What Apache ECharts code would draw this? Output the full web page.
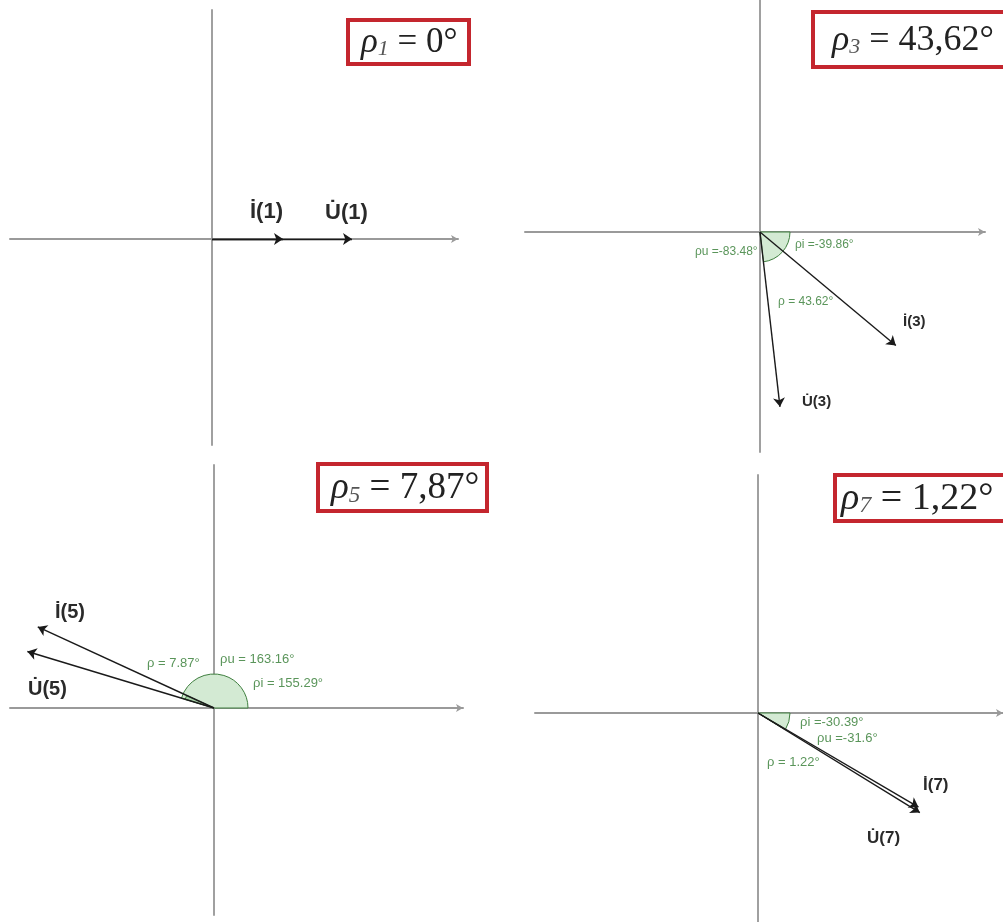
<!DOCTYPE html>
<html>
<head>
<meta charset="utf-8">
<script src="https://cdn.jsdelivr.net/npm/echarts@6/dist/echarts.min.js"></script>
<style>
  html, body { margin: 0; padding: 0; background: #fff; }
  #main { width: 1003px; height: 922px; }
</style>
</head>
<body>
<div id="main"></div>
<script>
// harmonic order of each panel
const orders = ['1', '3', '5', '7'];
// phase shift ρ shown in the red boxes
const rhoBox = ['0', '43,62', '7,87', '1,22'];
// phase angles of current and voltage phasors (degrees)
const phiI = [0, -39.86, 155.29, -30.39];
const phiU = [0, -83.48, 163.16, -31.6];
// phasor lengths (drawing units)
const magI = [71, 177, 194, 186];
const magU = [140, 176, 195, 190];
// angle annotations
const angleLabels = [
  [],
  ['ρu =-83.48°', 'ρi =-39.86°', 'ρ = 43.62°'],
  ['ρu = 163.16°', 'ρi = 155.29°', 'ρ = 7.87°'],
  ['ρu =-31.6°', 'ρi =-30.39°', 'ρ = 1.22°']
];

// layout: grid box in pixels and axis ranges (1 unit = 1 px)
const grids = [
  { left: 10, top: 10, width: 448, height: 435, x: [-202, 246], y: [-206, 229] },
  { left: 525, top: 0, width: 460, height: 452, x: [-235, 225], y: [-220, 232] },
  { left: 10, top: 465, width: 453, height: 450, x: [-204, 249], y: [-207, 243] },
  { left: 535, top: 475, width: 468, height: 447, x: [-223, 245], y: [-209, 238] }
];
const sectorR = [0, 30, 34, 32];
const boxes = [
  { x: 348, y: 20, w: 121, h: 44, tx: 361, fs: 35 },
  { x: 813, y: 12, w: 200, h: 55, tx: 832, fs: 36 },
  { x: 318, y: 464, w: 169, h: 47, tx: 331, fs: 37 },
  { x: 835, y: 475, w: 175, h: 46, tx: 841, fs: 38 }
];
// vector labels: [I label pos, U label pos, font size]
const vecLabelPos = [
  [[250, 212], [325, 213], 22],
  [[903, 322], [802, 402], 15],
  [[55, 612], [28, 689], 20],
  [[923, 785], [867, 838], 17]
];
// angle label positions (pixels, left-middle) and font size
const angLabelPos = [
  [],
  [[695, 252, 12], [795, 245, 12], [778, 302, 12]],
  [[220, 659, 13], [253, 683, 13], [147, 663, 13]],
  [[817, 738, 13], [800, 722, 13], [767, 762, 13]]
];

const rad = d => d * Math.PI / 180;
const chart = echarts.init(document.getElementById('main'));

const gridOpt = [], xAxes = [], yAxes = [], series = [], graphic = [];

grids.forEach((g, k) => {
  gridOpt.push({ left: g.left, top: g.top, width: g.width, height: g.height });
  const axisCommon = {
    type: 'value', gridIndex: k,
    axisTick: { show: false }, axisLabel: { show: false }, splitLine: { show: false }
  };
  xAxes.push(Object.assign({}, axisCommon, {
    min: g.x[0], max: g.x[1],
    axisLine: { onZero: true, symbol: ['none', 'arrow'], symbolSize: [6, 7], lineStyle: { color: '#9a9a9a', width: 2 } }
  }));
  yAxes.push(Object.assign({}, axisCommon, {
    min: g.y[0], max: g.y[1],
    axisLine: { onZero: true, lineStyle: { color: '#a0a0a0', width: 2 } }
  }));

  // green angle sectors
  if (sectorR[k] > 0) {
    const a = Math.min(phiI[k], phiU[k], 0), b = Math.max(phiI[k], phiU[k], 0);
    const lo = Math.min(phiI[k], phiU[k]), hi = Math.max(phiI[k], phiU[k]);
    series.push({
      type: 'custom', coordinateSystem: 'cartesian2d', xAxisIndex: k, yAxisIndex: k, z: 1,
      data: [[a, b, 0], [lo, hi, 1]],
      renderItem: (params, api) => {
        const c = api.coord([0, 0]);
        const r = api.size([sectorR[k], 0])[0];
        const s = api.value(0), e = api.value(1), kind = api.value(2);
        if (kind === 1 && k === 1) return null;
        return {
          type: 'sector',
          shape: { cx: c[0], cy: c[1], r: kind ? r - 4 : r, r0: 0,
            startAngle: -rad(e), endAngle: -rad(s), clockwise: true },
          style: { fill: kind ? '#a8d2a8' : '#d3ead3', stroke: '#3f7f3f', lineWidth: 1 }
        };
      }
    });
  }

  // phasors
  series.push({
    type: 'lines', coordinateSystem: 'cartesian2d', xAxisIndex: k, yAxisIndex: k, z: 3,
    symbol: ['none', 'arrow'], symbolSize: 9,
    lineStyle: { color: '#1a1a1a', width: 1.4, opacity: 1 },
    data: [
      { coords: [[0, 0], [magU[k] * Math.cos(rad(phiU[k])), magU[k] * Math.sin(rad(phiU[k]))]] },
      { coords: [[0, 0], [magI[k] * Math.cos(rad(phiI[k])), magI[k] * Math.sin(rad(phiI[k]))]] }
    ]
  });

  // vector labels
  const vp = vecLabelPos[k];
  graphic.push({ type: 'text', z: 10, style: { x: vp[0][0], y: vp[0][1], text: 'İ(' + orders[k] + ')',
    font: 'bold ' + vp[2] + 'px "Liberation Sans", Arial, sans-serif', fill: '#2a2a2a', verticalAlign: 'middle' } });
  graphic.push({ type: 'text', z: 10, style: { x: vp[1][0], y: vp[1][1], text: 'U\u0307(' + orders[k] + ')',
    font: 'bold ' + vp[2] + 'px "Liberation Sans", Arial, sans-serif', fill: '#2a2a2a', verticalAlign: 'middle' } });

  // angle labels
  angleLabels[k].forEach((t, j) => {
    const p = angLabelPos[k][j];
    graphic.push({ type: 'text', z: 10, style: { x: p[0], y: p[1], text: t,
      font: p[2] + 'px "Liberation Sans", Arial, sans-serif', fill: '#5a955a', verticalAlign: 'middle' } });
  });

  // red boxes with ρ value
  const bx = boxes[k];
  const serif = '"Liberation Serif", "DejaVu Serif", serif';
  graphic.push({ type: 'rect', z: 20, shape: { x: bx.x, y: bx.y, width: bx.w, height: bx.h },
    style: { fill: '#fff', stroke: '#c4262e', lineWidth: 4 } });
  graphic.push({ type: 'text', z: 21, style: {
    x: bx.tx, y: bx.y + bx.h / 2 + 1, verticalAlign: 'middle',
    text: '{r|ρ}{s|' + orders[k] + '}{n| = ' + rhoBox[k] + '°}',
    rich: {
      r: { fontFamily: serif, fontStyle: 'italic', fontSize: bx.fs, fill: '#222' },
      s: { fontFamily: serif, fontStyle: 'italic', fontSize: Math.round(bx.fs * 0.62), fill: '#555', verticalAlign: 'bottom' },
      n: { fontFamily: serif, fontSize: bx.fs, fill: '#222' }
    }
  } });
});

chart.setOption({
  animation: false,
  backgroundColor: '#fff',
  grid: gridOpt,
  xAxis: xAxes,
  yAxis: yAxes,
  series: series,
  graphic: graphic
});
</script>
</body>
</html>
